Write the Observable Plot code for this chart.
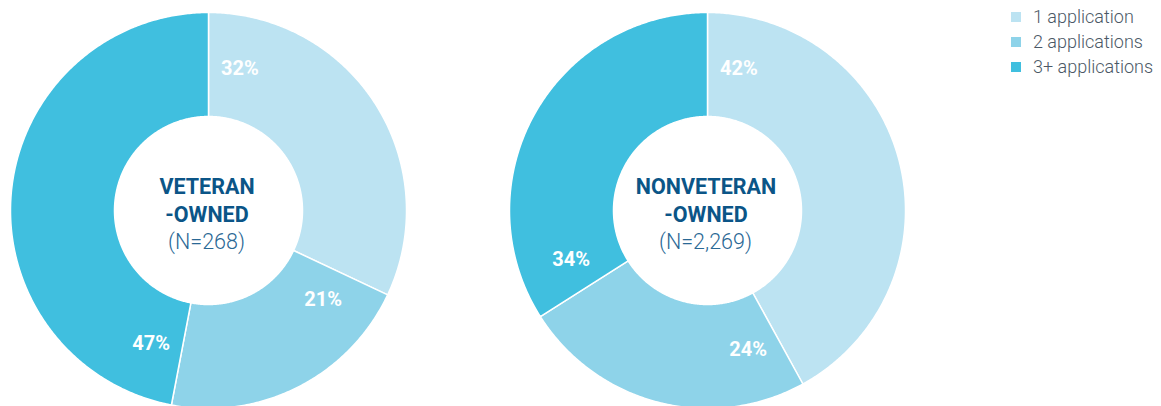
<!DOCTYPE html>
<html>
<head>
<meta charset="utf-8">
<script src="https://cdn.jsdelivr.net/npm/d3@7"></script>
<script src="https://cdn.jsdelivr.net/npm/@observablehq/plot@0.6"></script>
<style>
  html, body { margin: 0; padding: 0; background: #fff; }
  #wrap { position: relative; width: 1161px; height: 406px; overflow: hidden; font-family: Roboto, "Noto Sans", sans-serif; }
  #legend { position: absolute; left: 1011px; top: 4px; }
  .item { display: flex; align-items: center; height: 25px; font-size: 18px; font-weight: 300; color: #4b5866; }
  .sw { width: 10px; height: 10px; margin-right: 12px; flex: none; }
</style>
</head>
<body>
<div id="wrap"><div id="legend"></div></div>
<script>
// ---- data ----
const groups = ["VETERAN\n-OWNED", "NONVETERAN\n-OWNED"];
const groupN = ["(N=268)", "(N=2,269)"];
const categories = ["1 application", "2 applications", "3+ applications"];
const veteranShares = [32, 21, 47];
const nonveteranShares = [42, 24, 34];
const colors = ["#bce3f2", "#8ed3e9", "#40bfdf"];

// ---- geometry (from data) ----
const R = 198, r0 = 94, rLabel = 145, labelOffset = 12.5 * Math.PI / 180;
const series = [veteranShares, nonveteranShares];
const arcPts = [], labels = [], centers = [];
groups.forEach((g, gi) => {
  const vals = series[gi];
  const total = d3.sum(vals);
  let acc = 0;
  centers.push({g, title: g, n: groupN[gi]});
  vals.forEach((v, ci) => {
    const a0 = acc / total * 2 * Math.PI;
    acc += v;
    const a1 = acc / total * 2 * Math.PI;
    const key = gi + "-" + ci;
    const n = Math.max(2, Math.ceil((a1 - a0) / (Math.PI / 360)));
    const pts = [];
    for (let i = 0; i <= n; i++) { const a = a0 + (a1 - a0) * i / n; pts.push({g, key, cat: categories[ci], x: R * Math.sin(a), y: R * Math.cos(a)}); }
    for (let i = n; i >= 0; i--) { const a = a0 + (a1 - a0) * i / n; pts.push({g, key, cat: categories[ci], x: r0 * Math.sin(a), y: r0 * Math.cos(a)}); }
    pts.push({...pts[0]});
    arcPts.push(...pts);
    const la = a0 + labelOffset;
    labels.push({g, x: rLabel * Math.sin(la), y: rLabel * Math.cos(la), text: v + "%"});
  });
});

const chart = Plot.plot({
  width: 1161,
  height: 406,
  marginLeft: 10,
  marginRight: 255.5,
  marginTop: 0,
  marginBottom: 0,
  style: {fontFamily: "Roboto, 'Noto Sans', sans-serif", background: "transparent"},
  fx: {domain: groups, paddingInner: 0.2072, paddingOuter: 0, axis: null, label: null},
  x: {domain: [-R, R], axis: null},
  y: {domain: [-196, 210], axis: null},
  color: {domain: categories, range: colors},
  marks: [
    Plot.line(arcPts, {x: "x", y: "y", z: "key", fx: "g", fill: "cat", stroke: "white", strokeWidth: 1.5, curve: "linear"}),
    Plot.text(labels, {x: "x", y: "y", fx: "g", text: "text", fill: "white", fontSize: 20, fontWeight: 700, lineAnchor: "middle", textAnchor: "middle", style: "letter-spacing:1px"}),
    Plot.text(centers, {x: () => 0, y: () => 0, fx: "g", text: "title", fill: "#0b5587", fontSize: 21.5, fontWeight: 700, lineAnchor: "bottom", lineHeight: 1.26, dy: 11, dx: -1.5}),
    Plot.text(centers, {x: () => 0, y: () => 0, fx: "g", text: "n", fill: "#2a6895", fontSize: 21.5, fontWeight: 300, lineAnchor: "bottom", dy: 38, dx: -2})
  ]
});
document.getElementById("wrap").prepend(chart);

const legend = d3.select("#legend");
categories.forEach((c, i) => {
  const it = legend.append("div").attr("class", "item");
  it.append("div").attr("class", "sw").style("background", colors[i]);
  it.append("span").text(c);
});
</script>
</body>
</html>
